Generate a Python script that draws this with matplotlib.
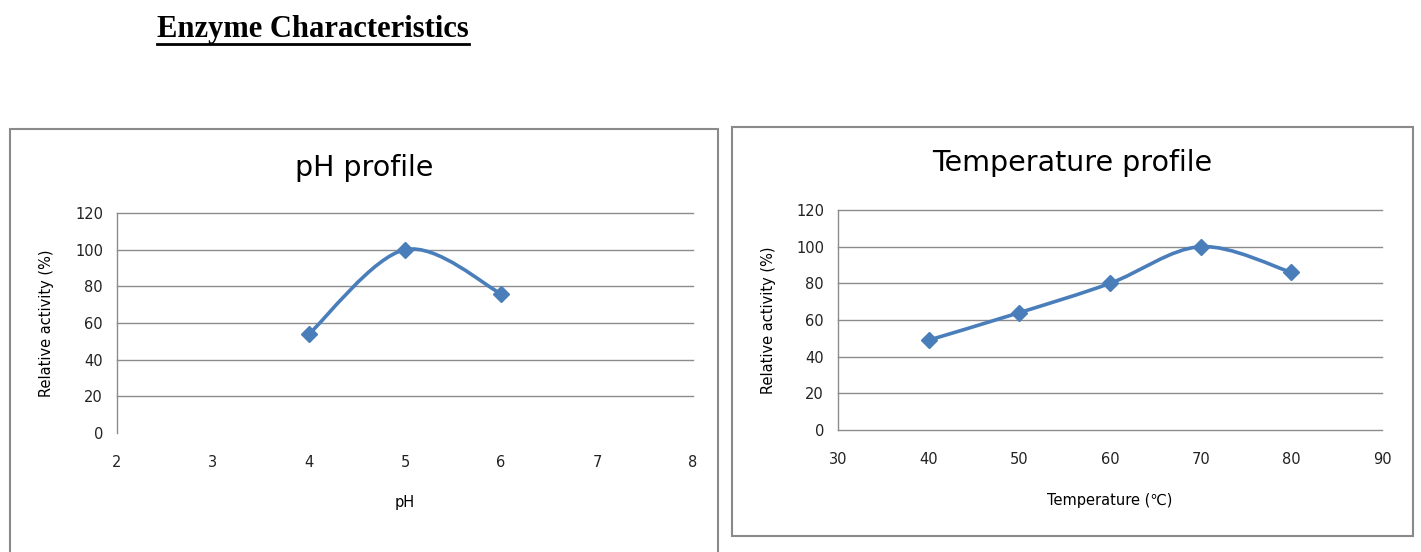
import numpy as np
import matplotlib
matplotlib.use("Agg")
import matplotlib.pyplot as plt
from matplotlib.path import Path
from matplotlib.patches import PathPatch, Rectangle
from matplotlib.lines import Line2D

# ---- data ----
ph_values = [4, 5, 6]
ph_activity = [54, 100, 76]
ph_xticks = [2, 3, 4, 5, 6, 7, 8]

temp_values = [40, 50, 60, 70, 80]
temp_activity = [49, 64, 80, 100, 86]
temp_xticks = [30, 40, 50, 60, 70, 80, 90]

y_ticks = [0, 20, 40, 60, 80, 100, 120]

main_title = "Enzyme Characteristics"
ph_title = "pH profile"
temp_title = "Temperature profile"
ylabel = "Relative activity (%)"
ph_xlabel = "pH"
temp_xlabel = "Temperature (℃)"

W, H = 1421, 552
fig = plt.figure(figsize=(W / 100, H / 100), dpi=100)
fig.patch.set_facecolor("white")

FONT = ["DejaVu Sans", "Noto Sans CJK JP"]
LINE_COLOR = "#4A7EBB"
GRID = "#8C8C8C"


def fx(px):
    return px / W


def fy(py):
    return 1 - py / H


def smooth_path(xs, ys):
    """Excel-like smoothed line (Catmull-Rom converted to cubic Bezier)."""
    pts = list(zip(xs, ys))
    n = len(pts)
    verts = [pts[0]]
    codes = [Path.MOVETO]
    for i in range(n - 1):
        p0 = pts[i - 1] if i > 0 else pts[i]
        p1 = pts[i]
        p2 = pts[i + 1]
        p3 = pts[i + 2] if i + 2 < n else pts[i + 1]
        c1 = (p1[0] + (p2[0] - p0[0]) / 6, p1[1] + (p2[1] - p0[1]) / 6)
        c2 = (p2[0] - (p3[0] - p1[0]) / 6, p2[1] - (p3[1] - p1[1]) / 6)
        verts += [c1, c2, p2]
        codes += [Path.CURVE4, Path.CURVE4, Path.CURVE4]
    return Path(verts, codes)


def panel(box, axbox, xs, ys, xticks, title, title_size, xlabel, title_y, xlabel_pos, ylabel_x, zero_grid):
    # panel border
    bx0, by0, bx1, by1 = box
    fig.patches.append(Rectangle((fx(bx0), fy(by1)), fx(bx1 - bx0), (by1 - by0) / H,
                                 transform=fig.transFigure, fill=False,
                                 edgecolor="#8A8A8A", linewidth=1.5, zorder=0))
    ax0, ay0, ax1, ay1 = axbox
    ax = fig.add_axes([fx(ax0), fy(ay1), fx(ax1 - ax0), (ay1 - ay0) / H])
    ax.set_xlim(xticks[0], xticks[-1])
    ax.set_ylim(0, 120)
    ax.set_xticks(xticks)
    ax.set_yticks(y_ticks)
    ax.set_xticklabels([str(t) for t in xticks], fontsize=10.5, family=FONT)
    ax.set_yticklabels([str(t) for t in y_ticks], fontsize=10.5, family=FONT)
    ax.tick_params(length=0, pad=10, colors="#222222")
    ax.tick_params(axis="x", pad=16)
    for t in y_ticks:
        if t == 0 and not zero_grid:
            continue
        ax.axhline(t, color=GRID, linewidth=1.0, zorder=1, clip_on=False)
    for s in ["top", "right", "bottom"]:
        ax.spines[s].set_visible(False)
    ax.spines["left"].set_color(GRID)
    ax.spines["left"].set_linewidth(1.0)
    ax.add_patch(PathPatch(smooth_path(xs, ys), facecolor="none",
                           edgecolor=LINE_COLOR, linewidth=2.6, zorder=3))
    ax.plot(xs, ys, linestyle="none", marker="D", markersize=8,
            color=LINE_COLOR, zorder=4)
    fig.text(fx((bx0 + bx1) / 2), fy(title_y), title, ha="center", va="center",
             fontsize=title_size, family=FONT)
    fig.text(fx(xlabel_pos[0]), fy(xlabel_pos[1]), xlabel, ha="center", va="center",
             fontsize=10.5, family=FONT)
    fig.text(fx(ylabel_x), fy((ay0 + ay1) / 2), ylabel, ha="center", va="center",
             rotation=90, fontsize=10.5, family=FONT)
    return ax


panel((10, 129, 718, 560), (117, 213, 693, 433), ph_values, ph_activity, ph_xticks,
      ph_title, 20.5, ph_xlabel, 168, (405, 502), 47, False)
panel((732, 127, 1413, 536), (838, 210, 1382, 430), temp_values, temp_activity, temp_xticks,
      temp_title, 20.5, temp_xlabel, 163, (1110, 500), 769, True)

t = fig.text(fx(313), fy(30), main_title, ha="center", va="center",
             fontsize=22, fontweight="bold", family="Liberation Serif")
fig.canvas.draw()
bb = t.get_window_extent(renderer=fig.canvas.get_renderer())
uy = (bb.y0 + 1) / H
fig.add_artist(Line2D([bb.x0 / W, bb.x1 / W], [uy, uy], transform=fig.transFigure,
                      color="black", linewidth=2.0))

fig.savefig("out.png", dpi=100)
